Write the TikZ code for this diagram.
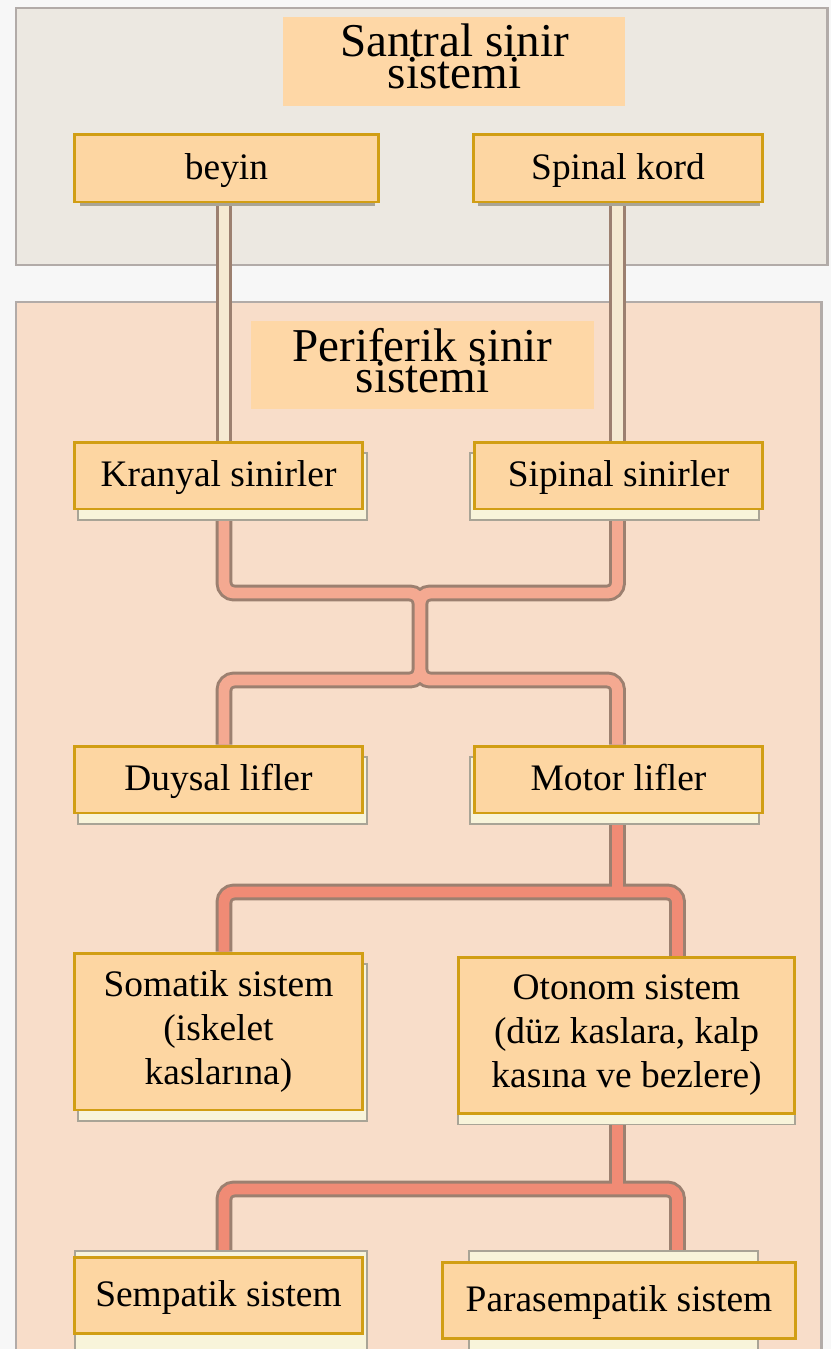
\documentclass[tikz,border=0pt]{standalone}
\usepackage{fontspec}
\setmainfont{Liberation Serif}
\usetikzlibrary{shadows}

\definecolor{pagebg}{HTML}{F7F7F7}
\definecolor{cnsfill}{HTML}{ECE8E1}
\definecolor{pnsfill}{HTML}{F8DDC9}
\definecolor{panelline}{HTML}{B2ABA8}
\definecolor{titlefill}{HTML}{FED7A6}
\definecolor{boxfill}{HTML}{FDD6A2}
\definecolor{boxline}{HTML}{D19E14}
\definecolor{cardfill}{HTML}{F8F4DA}
\definecolor{cardline}{HTML}{A9A496}
\definecolor{nerveline}{HTML}{9C8070}
\definecolor{nerveA}{HTML}{F5EAD2}
\definecolor{nerveB}{HTML}{F4A991}
\definecolor{nerveC}{HTML}{F08B75}

\pgfdeclarelayer{panels}
\pgfdeclarelayer{nerves}
\pgfsetlayers{panels,nerves,main}

\begin{document}
\begin{tikzpicture}[x=0.02cm, y=-0.02cm,
    panel/.style={draw=panelline, line width=1.7pt},
    titlebox/.style={fill=titlefill, inner sep=0pt, minimum width=6.86cm, minimum height=1.77cm},
    titletext/.style={align=center, inner sep=0pt,
      font={\fontsize{26.8}{18}\selectfont\lineskiplimit=-20pt}},
    box/.style={draw=boxline, fill=boxfill, line width=1.7pt, inner sep=0pt,
      minimum width=5.78cm, minimum height=1.34cm, text height=15.3pt, text depth=2.3pt,
      font={\fontsize{21.3}{25.5}\selectfont},
      general shadow={fill=cardfill, draw=cardline, line width=1.1pt,
        shadow xshift=#1, shadow yshift=-0.22cm}},
    box/.default=0.08cm,
    topbox/.style={draw=boxline, fill=boxfill, line width=1.7pt, inner sep=0pt,
      minimum height=1.36cm, text height=15.3pt, text depth=2.3pt,
      font={\fontsize{21.3}{25.5}\selectfont},
      general shadow={fill=cardline, shadow xshift=0.02cm, shadow yshift=-0.1cm, shadow scale=0.97}},
    tallbox/.style={box=#1, text height=, text depth=, align=center,
      font={\fontsize{21.3}{25}\selectfont}},
    tallbox/.default=0.08cm,
    plainbox/.style={draw=boxline, fill=boxfill, line width=1.7pt, inner sep=0pt,
      minimum width=5.78cm, minimum height=1.52cm, text height=15.3pt, text depth=2.3pt,
      font={\fontsize{21.3}{25.5}\selectfont}},
    card/.style={draw=cardline, fill=cardfill, line width=1.1pt},
    nerve/.style={draw=nerveline, line width=1.7pt, double=#1, double distance=6.2pt,
      rounded corners=5.7pt}]

  \useasboundingbox (0,0) rectangle (831,1349);

  % Panels and titles
  \begin{pgfonlayer}{panels}
    \fill[pagebg] (0,0) rectangle (831,1349);
    \draw[panel, fill=cnsfill] (16,8) rectangle (827,265);
    \draw[panel, fill=pnsfill] (16,302) rectangle (821,1360);
    \node[titlebox] (cnsbox) at (454,61.5) {};
    \node[titletext] (cns) at (454.5,56.5) {Santral sinir\\sistemi};
    \node[titlebox] (pnsbox) at (422.5,365) {};
    \node[titletext] (pns) at (422.5,360.5) {Periferik sinir\\sistemi};
  \end{pgfonlayer}

  % Columns and junctions
  \coordinate (colL) at (224,0);
  \coordinate (colR) at (617.5,0);
  \coordinate (colR2) at (677.5,0);
  \coordinate (xa) at (420,593);
  \coordinate (xb) at (420,680);
  \coordinate (brA) at (617.5,892);
  \coordinate (brB) at (617.5,1189);

  % Back cards of the last row
  \draw[card] (75,1251) rectangle (367,1360);
  \draw[card] (469,1251) rectangle (758,1360);

  % Boxes
  \node[topbox, minimum width=6.1cm] (beyin) at (226.5,168) {beyin};
  \node[topbox, minimum width=5.8cm] (spinal) at (618,168) {Spinal kord};
  \node[box] (kranyal) at (218.5,475.5) {Kranyal sinirler};
  \node[box=-0.08cm] (sipinal) at (618.5,475.5) {Sipinal sinirler};
  \node[box] (duysal) at (218.5,779.5) {Duysal lifler};
  \node[box=-0.08cm] (motor) at (618.5,779.5) {Motor lifler};
  \node[tallbox, minimum height=3.14cm] (somatik) at (218.5,1031.5)
    {Somatik sistem\\(iskelet\\kaslarına)};
  \node[tallbox=0cm, minimum width=6.74cm, minimum height=3.12cm] (otonom) at (626.5,1035.5)
    {Otonom sistem\\(düz kaslara, kalp\\kasına ve bezlere)};
  \node[plainbox] (sempatik) at (218.5,1295) {Sempatik sistem};
  \node[plainbox, minimum width=7.08cm] (parasempatik) at (619,1300) {Parasempatik sistem};

  % Nerves
  \begin{pgfonlayer}{nerves}
    \draw[nerve=nerveA] (beyin.south -| colL) -- (kranyal.north -| colL)
      (spinal.south -| colR) -- (sipinal.north -| colR);
    \draw[nerve=nerveB] (kranyal.south -| colL) |- (xa) -- (xb) -| (duysal.north -| colL)
      (sipinal.south -| colR) |- (xa) -- (xb) -| (motor.north -| colR);
    \draw[nerve=nerveC] (somatik.north -| colL) |- (brA) -| (otonom.north -| colR2)
      (motor.south -| colR) -- (brA);
    \draw[nerve=nerveC] (sempatik.north -| colL) |- (brB) -| (parasempatik.north -| colR2)
      (otonom.south -| colR) -- (brB);
  \end{pgfonlayer}
\end{tikzpicture}
\end{document}
